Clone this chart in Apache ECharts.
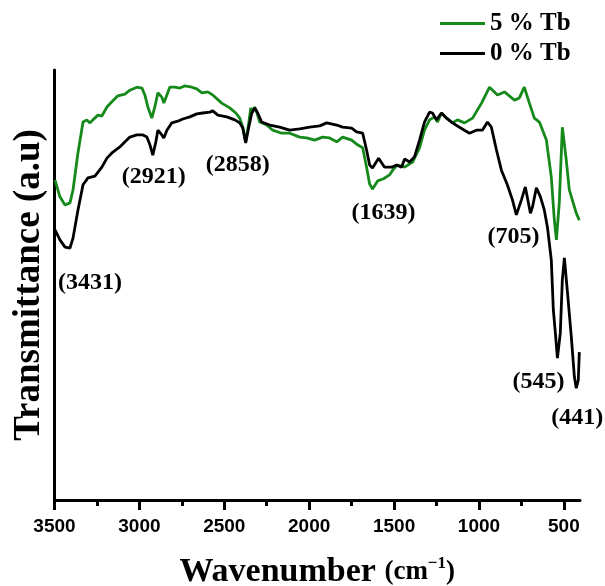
<!DOCTYPE html>
<html>
<head>
<meta charset="utf-8">
<script src="https://cdn.jsdelivr.net/npm/echarts@6/dist/echarts.min.js"></script>
<style>
html,body{margin:0;padding:0;background:#fff;}
#chart{width:605px;height:586px;}
</style>
</head>
<body>
<div id="chart"></div>
<script>
// ---- data (wavenumber cm-1, transmittance a.u.) ----
const seriesNames = ['5 % Tb', '0 % Tb'];

const greenX = [3497,3468,3438,3409,3391,3362,3332,3309,3291,3274,3244,3221,3191,3162,3127,3085,3056,3015,2985,2968,2950,2927,2909,2891,2868,2856,2838,2821,2791,2762,2733,2691,2662,2632,2597,2568,2515,2468,2432,2409,2391,2374,2356,2344,2333,2321,2309,2291,2250,2215,2162,2115,2056,2015,1968,1921,1880,1838,1803,1750,1715,1685,1662,1644,1627,1597,1562,1527,1503,1480,1438,1391,1350,1321,1291,1262,1244,1221,1191,1156,1127,1085,1038,985,938,891,850,791,762,733,703,674,644,603,574,556,544,527,509,486,468,427,409];
const greenY = [74.4,70.5,68.6,69.1,72.1,80.7,87.9,88.4,87.7,88.4,89.5,89.3,91.4,92.6,94.0,94.4,95.3,96.0,95.8,94.2,91.4,88.8,91.4,94.7,93.7,92.3,94.2,96.0,96.0,95.8,96.3,96.0,95.6,94.7,94.9,94.2,92.3,91.2,90.0,88.8,86.7,83.3,87.7,91.2,90.2,91.4,90.2,87.9,87.2,86.0,85.3,85.3,84.4,84.2,83.7,84.4,84.2,83.3,84.4,83.7,82.6,81.9,77.4,73.5,72.3,74.2,74.7,75.6,77.0,77.9,77.4,78.6,81.9,86.0,88.4,89.1,87.9,90.0,88.8,87.7,88.4,87.7,88.8,92.3,96.0,94.2,94.9,93.0,93.5,96.0,92.3,88.8,87.9,83.7,75.1,65.1,60.5,69.1,86.7,79.1,72.1,66.7,65.1];

const blackX = [3497,3468,3438,3409,3391,3362,3332,3303,3262,3221,3191,3162,3115,3085,3056,3015,2979,2956,2938,2921,2903,2891,2868,2856,2838,2809,2774,2744,2703,2662,2627,2585,2568,2538,2485,2438,2409,2391,2374,2356,2338,2321,2303,2280,2232,2174,2115,2056,1997,1938,1897,1838,1803,1750,1721,1685,1662,1644,1627,1591,1556,1515,1485,1456,1438,1409,1380,1350,1321,1291,1274,1250,1221,1191,1156,1115,1056,1015,980,950,927,897,868,833,803,780,750,727,697,685,662,638,615,597,574,562,550,538,521,509,497,480,456,438,427,415,409];
const blackY = [62.8,60.5,58.8,58.6,60.9,67.4,73.3,74.9,75.3,77.4,79.5,80.7,82.1,83.3,84.4,84.9,84.9,84.4,82.6,80.2,83.3,86.0,84.9,84.2,86.0,87.7,88.1,88.6,89.1,89.8,90.0,90.2,90.5,89.5,89.1,88.4,87.7,86.5,83.0,86.7,90.0,91.2,90.0,87.9,87.2,86.7,86.0,86.3,86.7,87.0,87.7,87.2,86.7,86.5,85.6,85.3,81.4,77.9,77.2,79.5,77.4,77.4,77.9,77.4,79.3,78.6,79.8,83.7,87.9,90.2,90.0,88.4,90.0,88.8,87.7,86.7,85.3,86.0,86.0,87.9,86.7,81.4,76.7,73.3,69.8,66.3,69.8,72.8,66.7,68.1,72.6,70.5,67.4,63.5,55.8,44.2,38.8,33.0,38.8,51.2,56.3,48.8,37.9,28.6,26.0,27.9,34.4];

const tickValues = [3500,3000,2500,2000,1500,1000,500];
const minorTickValues = [3250,2750,2250,1750,1250,750];

const annotLabels = ['(3431)','(2921)','(2858)','(1639)','(705)','(545)','(441)'];
const annotX = [3291,2915,2421,1562,797,650,421];
const annotY = [50.5,75.1,77.9,66.7,61.2,27.4,19.1];

// ---- chart ----
const chart = echarts.init(document.getElementById('chart'), null, {renderer:'canvas'});
const serif = '"Liberation Serif","Times New Roman",serif';
const sans = '"Liberation Sans",Arial,sans-serif';
const xMin = 405, xMax = 3500;
const green = '#15891a';

const baseX = {
  type:'value', min:xMin, max:xMax, inverse:true, position:'bottom',
  splitLine:{show:false}
};

const option = {
  animation:false,
  backgroundColor:'#ffffff',
  grid:{left:54.5, right:25, top:70, bottom:86, containLabel:false, outerBoundsMode:'none'},
  legend:{
    orient:'vertical', left:440, top:11, padding:0, itemWidth:45, itemHeight:3, itemGap:5,
    icon:'rect',
    data:seriesNames,
    textStyle:{fontFamily:serif, fontWeight:'bold', fontSize:25, color:'#000'}
  },
  xAxis:[
    Object.assign({}, baseX, {
      axisLine:{show:true, onZero:false, lineStyle:{color:'#000', width:3}},
      axisTick:{show:true, length:10, lineStyle:{color:'#000', width:3}, customValues:tickValues},
      axisLabel:{show:true, margin:17, customValues:tickValues, formatter:v=>String(v),
        fontFamily:sans, fontWeight:'bold', fontSize:19, color:'#000'},
      name:'{a|Wavenumber }{b|(cm}{c|−1}{b|)}',
      nameLocation:'middle', nameGap:55,
      nameTextStyle:{
        color:'#000',
        rich:{
          a:{fontFamily:serif, fontWeight:'bold', fontSize:34, color:'#000'},
          b:{fontFamily:serif, fontWeight:'bold', fontSize:27, color:'#000'},
          c:{fontFamily:serif, fontWeight:'bold', fontSize:17, color:'#000', verticalAlign:'top', padding:[0,0,12,0]}
        }
      }
    }),
    Object.assign({}, baseX, {
      axisLine:{show:false, onZero:false},
      axisTick:{show:true, length:6, lineStyle:{color:'#000', width:3}, customValues:minorTickValues},
      axisLabel:{show:false}
    })
  ],
  yAxis:{
    type:'value', min:0, max:100,
    axisLine:{show:true, onZero:false, lineStyle:{color:'#000', width:3}},
    axisTick:{show:false}, axisLabel:{show:false}, splitLine:{show:false},
    name:'Transmittance (a.u)', nameLocation:'middle', nameGap:7,
    nameTextStyle:{fontFamily:serif, fontWeight:'bold', fontSize:37, color:'#000'}
  },
  series:[
    {
      name:seriesNames[0], type:'line', showSymbol:false, symbol:'none',
      lineStyle:{color:green, width:2.8}, itemStyle:{color:green},
      data:greenX.map((x,i)=>[x, greenY[i]]), z:2
    },
    {
      name:seriesNames[1], type:'line', showSymbol:false, symbol:'none',
      lineStyle:{color:'#000000', width:2.8}, itemStyle:{color:'#000000'},
      data:blackX.map((x,i)=>[x, blackY[i]]), z:3
    }
  ]
};
chart.setOption(option);

// peak annotations placed through the axes' own scales
const graphics = annotLabels.map((t,i)=>{
  const p = chart.convertToPixel({xAxisIndex:0, yAxisIndex:0}, [annotX[i], annotY[i]]);
  return {
    type:'text', x:p[0], y:p[1], z:10, silent:true,
    style:{text:t, fill:'#000', font:'bold 24px ' + serif, align:'center', verticalAlign:'middle'}
  };
});
chart.setOption({graphic:graphics});
</script>
</body>
</html>
